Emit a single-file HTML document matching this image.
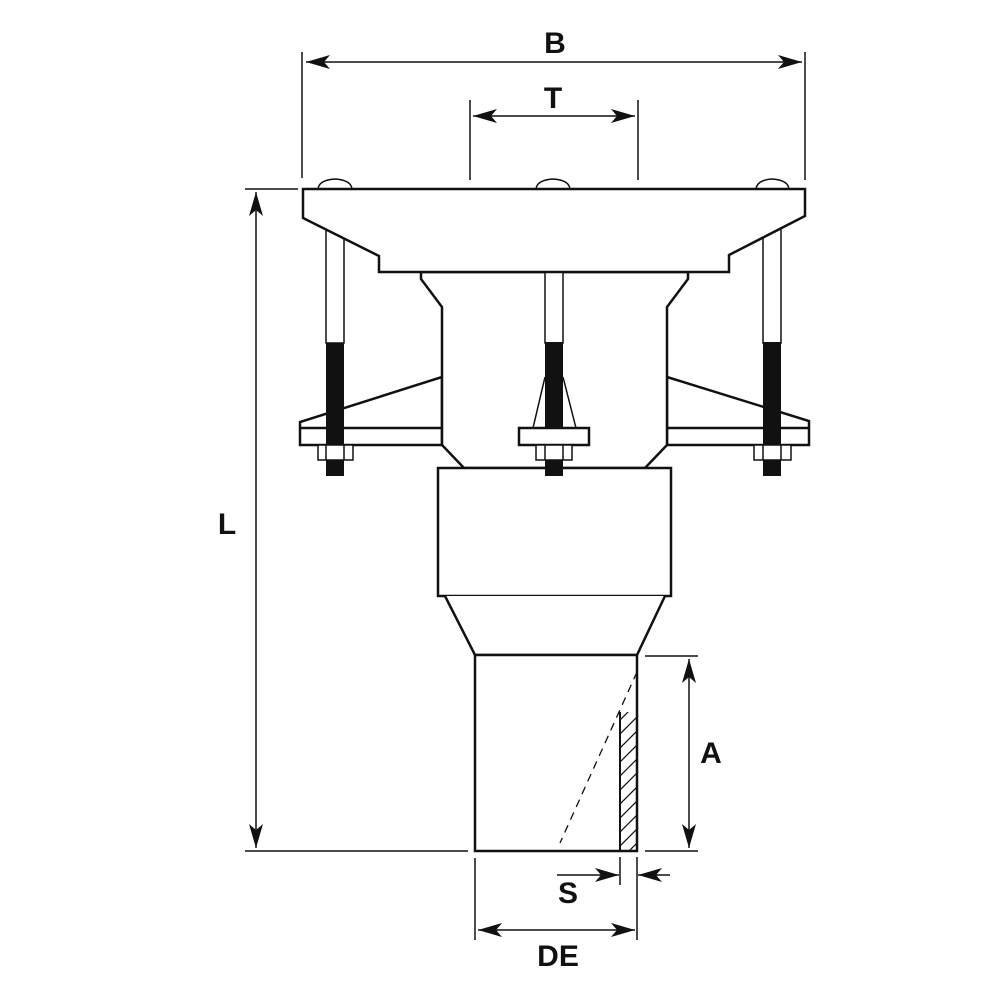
<!DOCTYPE html>
<html><head><style>body{margin:0;background:#fff}svg{display:block}text{font-family:"Liberation Sans",sans-serif;font-weight:bold;font-size:30px;fill:#111}</style></head>
<body>
<svg width="1000" height="1000" viewBox="0 0 1000 1000" xmlns="http://www.w3.org/2000/svg">
<defs>
<marker id="ar" viewBox="0 0 24 14" refX="24" refY="7" markerWidth="24" markerHeight="14" markerUnits="userSpaceOnUse" orient="auto-start-reverse"><path d="M0,0 L24,7 L0,14 L6,7 Z" fill="#111"/></marker>
</defs>
<g fill="#fff" stroke="#111" stroke-width="2.5" stroke-linejoin="miter">
<path d="M318,189 Q319,180 335,179 Q351,180 352,189" stroke-width="1.5"/>
<path d="M536,189 Q537,180 553,179 Q569,180 570,189" stroke-width="1.5"/>
<path d="M756,189 Q757,180 772,179 Q788,180 789,189" stroke-width="1.5"/>
<path d="M300,445 L300,422 L442,377 L442,445 Z"/>
<path d="M809,445 L809,421 L667,377 L667,445 Z"/>
<line x1="300" y1="428" x2="442" y2="428"/>
<line x1="667" y1="428" x2="809" y2="428"/>
<path d="M421,272 L421,279 L442,307 L442,445 L464,468 L645,468 L667,445 L667,307 L688,279 L688,272 Z"/>
<rect x="519" y="428" width="70" height="17"/>
</g>
<g stroke="#111" stroke-width="1.5" fill="#fff">
<rect x="326" y="215" width="18" height="128"/>
<rect x="545" y="265" width="18" height="78"/>
<rect x="763" y="215" width="18" height="128"/>
<rect x="318" y="445" width="35" height="15"/>
<rect x="536" y="445" width="36" height="15"/>
<rect x="754" y="445" width="37" height="15"/>
<line x1="326" y1="445" x2="326" y2="460"/><line x1="344" y1="445" x2="344" y2="460"/>
<line x1="545" y1="445" x2="545" y2="460"/><line x1="563" y1="445" x2="563" y2="460"/>
<line x1="763" y1="445" x2="763" y2="460"/><line x1="781" y1="445" x2="781" y2="460"/>
<line x1="545" y1="377" x2="533" y2="428"/><line x1="563" y1="377" x2="576" y2="428"/>
</g>
<g fill="#111">
<rect x="326" y="343" width="18" height="102"/><rect x="326" y="460" width="18" height="16"/>
<rect x="545" y="342" width="18" height="86"/>
<rect x="763" y="342" width="18" height="103"/><rect x="763" y="460" width="18" height="16"/>
</g>
<g fill="#fff" stroke="#111" stroke-width="2.5">
<path d="M303,189 L805,189 L805,216 L729,255 L729,272 L379,272 L379,256 L303,218 Z"/>
<rect x="438" y="468" width="233" height="128"/>
<path d="M445,596 L475,655 L637,655 L665,596"/>
<rect x="475" y="655" width="162" height="196"/>
</g>
<rect x="545" y="460" width="18" height="16" fill="#111"/>
<defs><clipPath id="hc"><rect x="620" y="712" width="17" height="139"/></clipPath></defs>
<g stroke="#111" stroke-width="1.2" clip-path="url(#hc)">
<path d="M600,740 L660,680 M600,754 L660,694 M600,768 L660,708 M600,782 L660,722 M600,796 L660,736 M600,810 L660,750 M600,824 L660,764 M600,838 L660,778 M600,852 L660,792 M600,866 L660,806 M600,880 L660,820 M600,894 L660,834 M600,908 L660,848"/>
</g>
<line x1="620" y1="712" x2="620" y2="851" stroke="#111" stroke-width="2"/>
<line x1="637" y1="672" x2="560" y2="843" stroke="#111" stroke-width="1.3" stroke-dasharray="8,6"/>
<g stroke="#111" stroke-width="1.5" fill="none">
<line x1="302" y1="52" x2="302" y2="178"/><line x1="805" y1="52" x2="805" y2="180"/>
<line x1="306" y1="62" x2="802" y2="62" marker-start="url(#ar)" marker-end="url(#ar)"/>
<line x1="470" y1="100" x2="470" y2="180"/><line x1="638" y1="100" x2="638" y2="180"/>
<line x1="473" y1="116" x2="635" y2="116" marker-start="url(#ar)" marker-end="url(#ar)"/>
<line x1="245" y1="189" x2="298" y2="189"/><line x1="245" y1="851" x2="468" y2="851"/>
<line x1="256" y1="192" x2="256" y2="848" marker-start="url(#ar)" marker-end="url(#ar)"/>
<line x1="645" y1="656" x2="698" y2="656"/><line x1="645" y1="851" x2="698" y2="851"/>
<line x1="689" y1="659" x2="689" y2="848" marker-start="url(#ar)" marker-end="url(#ar)"/>
<line x1="620" y1="857" x2="620" y2="885"/><line x1="637" y1="857" x2="637" y2="940"/>
<line x1="475" y1="858" x2="475" y2="940"/>
<line x1="557" y1="875" x2="619" y2="875" marker-end="url(#ar)"/>
<line x1="670" y1="875" x2="638" y2="875" marker-end="url(#ar)"/>
<line x1="478" y1="930" x2="635" y2="930" marker-start="url(#ar)" marker-end="url(#ar)"/>
</g>
<text x="555" y="53" text-anchor="middle">B</text>
<text x="553" y="108" text-anchor="middle">T</text>
<text x="227" y="534" text-anchor="middle">L</text>
<text x="711" y="763" text-anchor="middle">A</text>
<text x="568" y="903" text-anchor="middle">S</text>
<text x="558" y="966" text-anchor="middle">DE</text>
</svg>
</body></html>
